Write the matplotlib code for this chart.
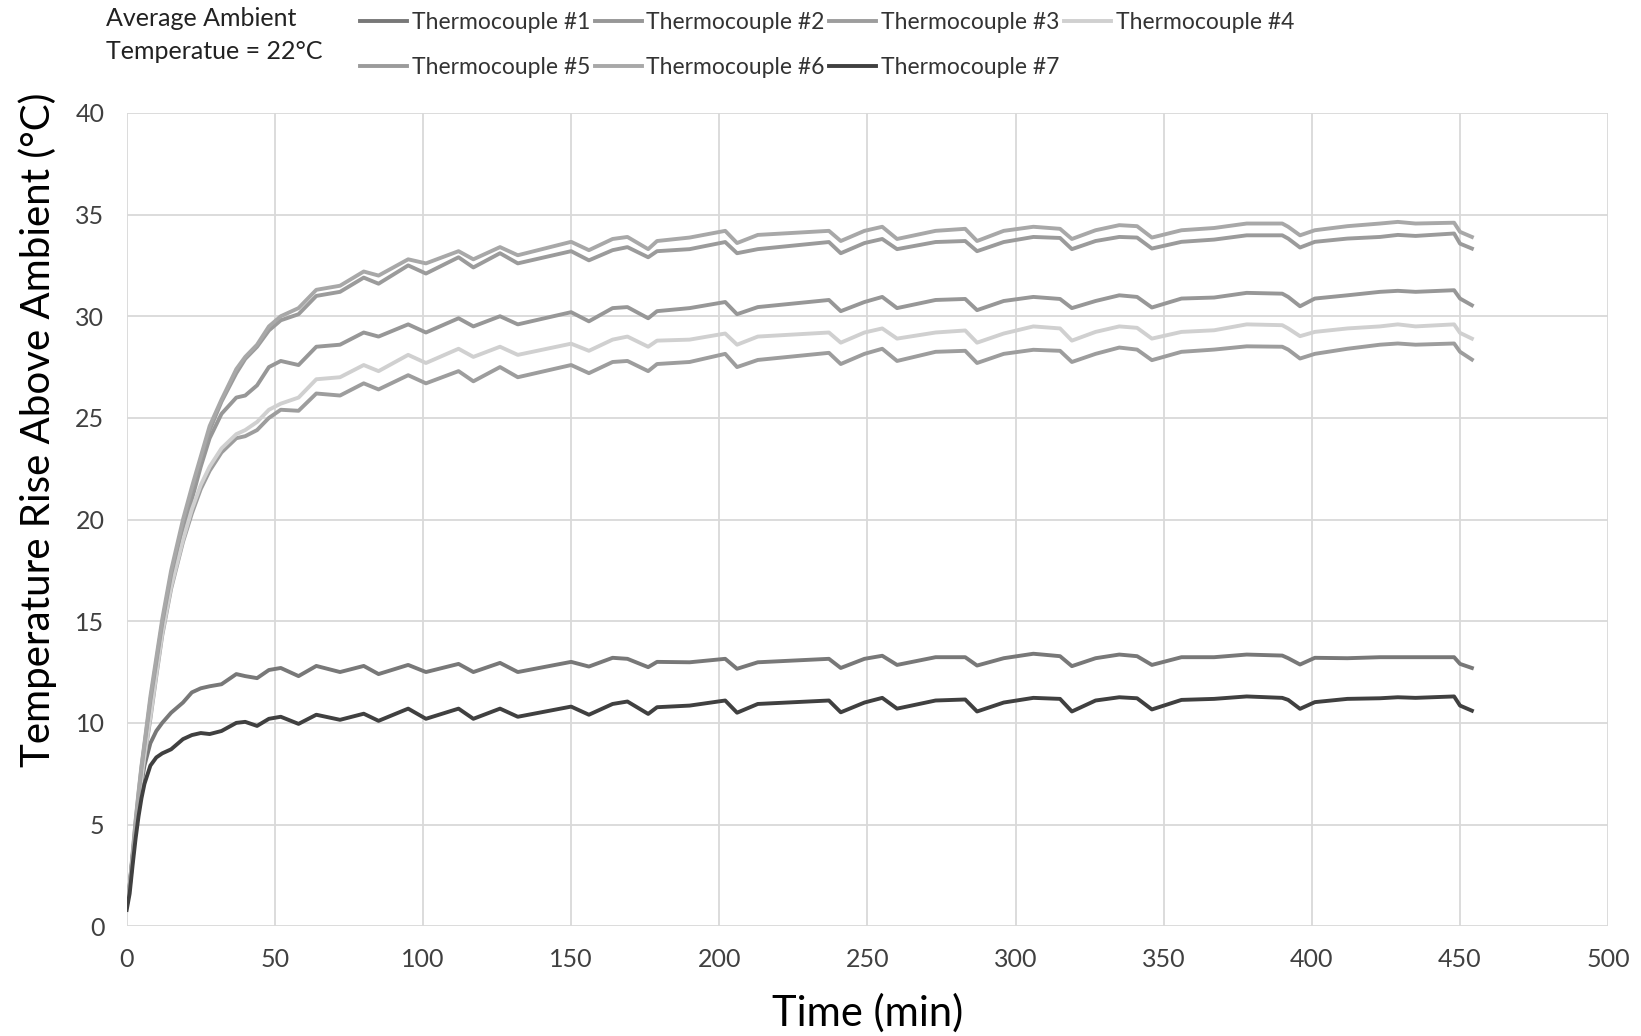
# Temperature rise of seven thermocouples above ambient
import matplotlib
matplotlib.use('Agg')
import matplotlib.pyplot as plt

plt.rcParams['font.family'] = ['Lato', 'DejaVu Sans']

t = [0, 1, 2, 3, 4, 5, 6, 8, 10, 12, 15, 19, 22, 25, 28, 32, 37, 40, 44, 48,
     52, 58, 64, 72, 80, 85, 95, 101, 112, 117, 126, 132, 150, 156, 164, 169, 176, 179, 190, 202,
     206, 213, 237, 241, 249, 255, 260, 273, 283, 287, 296, 306, 315, 319, 327, 335, 341, 346, 356, 367,
     378, 390, 392, 396, 401, 412, 423, 429, 435, 448, 450, 454]

tc1 = [1.0, 2.0, 3.4, 4.8, 6.0, 7.0, 7.9, 9.0, 9.6, 10.0, 10.5, 11.0, 11.5, 11.7, 11.8, 11.9, 12.4, 12.3, 12.2, 12.6,
       12.7, 12.3, 12.8, 12.5, 12.8, 12.4, 12.85, 12.5, 12.9, 12.5, 12.95, 12.5, 13.0, 12.77, 13.2, 13.15, 12.74, 13.0, 12.98, 13.15,
       12.66, 12.98, 13.15, 12.7, 13.15, 13.3, 12.85, 13.23, 13.23, 12.82, 13.18, 13.4, 13.28, 12.79, 13.18, 13.36, 13.28, 12.85, 13.23, 13.23,
       13.36, 13.31, 13.18, 12.87, 13.2, 13.18, 13.23, 13.23, 13.23, 13.23, 12.9, 12.7]

tc2 = [1.0, 1.9, 3.4, 4.9, 6.3, 7.5, 8.6, 10.6, 12.6, 14.5, 16.8, 19.3, 21.0, 22.6, 24.0, 25.2, 26.0, 26.1, 26.6, 27.5,
       27.8, 27.6, 28.5, 28.6, 29.2, 29.0, 29.6, 29.2, 29.9, 29.5, 30.0, 29.6, 30.2, 29.75, 30.4, 30.45, 29.9, 30.25, 30.4, 30.7,
       30.1, 30.45, 30.8, 30.25, 30.7, 30.95, 30.4, 30.8, 30.85, 30.3, 30.75, 30.95, 30.85, 30.4, 30.75, 31.03, 30.95, 30.43, 30.87, 30.92,
       31.15, 31.11, 30.95, 30.49, 30.87, 31.03, 31.2, 31.25, 31.2, 31.28, 30.87, 30.54]

tc3 = [1.0, 1.9, 3.3, 4.7, 6.0, 7.2, 8.3, 10.2, 12.3, 14.3, 16.6, 18.9, 20.3, 21.5, 22.4, 23.3, 24.0, 24.1, 24.4, 25.0,
       25.4, 25.35, 26.2, 26.1, 26.7, 26.4, 27.1, 26.7, 27.3, 26.8, 27.5, 27.0, 27.6, 27.2, 27.75, 27.8, 27.3, 27.65, 27.75, 28.15,
       27.5, 27.85, 28.2, 27.65, 28.15, 28.4, 27.8, 28.25, 28.3, 27.7, 28.15, 28.35, 28.3, 27.75, 28.15, 28.46, 28.36, 27.84, 28.25, 28.36,
       28.52, 28.5, 28.36, 27.92, 28.15, 28.4, 28.6, 28.66, 28.6, 28.66, 28.25, 27.87]

tc4 = [1.0, 1.9, 3.3, 4.8, 6.1, 7.3, 8.4, 10.3, 12.4, 14.4, 16.7, 19.0, 20.5, 21.7, 22.6, 23.5, 24.2, 24.4, 24.8, 25.4,
       25.7, 26.0, 26.9, 27.0, 27.6, 27.3, 28.1, 27.7, 28.4, 28.0, 28.5, 28.1, 28.65, 28.3, 28.85, 29.0, 28.5, 28.8, 28.85, 29.15,
       28.6, 29.0, 29.2, 28.7, 29.2, 29.4, 28.9, 29.2, 29.3, 28.7, 29.15, 29.5, 29.4, 28.8, 29.23, 29.5, 29.43, 28.9, 29.23, 29.31,
       29.6, 29.56, 29.4, 29.02, 29.23, 29.4, 29.5, 29.6, 29.5, 29.6, 29.18, 28.9]

tc5 = [1.0, 2.0, 3.5, 5.1, 6.5, 7.8, 8.9, 11.1, 13.0, 14.9, 17.3, 19.8, 21.4, 22.9, 24.4, 25.8, 27.2, 27.9, 28.5, 29.3,
       29.8, 30.1, 31.0, 31.2, 31.9, 31.6, 32.5, 32.1, 32.9, 32.4, 33.1, 32.6, 33.2, 32.75, 33.25, 33.4, 32.9, 33.2, 33.3, 33.65,
       33.1, 33.3, 33.65, 33.1, 33.6, 33.8, 33.3, 33.65, 33.7, 33.2, 33.65, 33.9, 33.85, 33.3, 33.7, 33.9, 33.87, 33.33, 33.66, 33.77,
       33.98, 33.98, 33.82, 33.38, 33.66, 33.82, 33.9, 34.0, 33.95, 34.07, 33.57, 33.33]

tc6 = [1.0, 2.0, 3.6, 5.2, 6.6, 7.9, 9.0, 11.3, 13.2, 15.1, 17.5, 20.0, 21.6, 23.1, 24.6, 25.9, 27.4, 28.0, 28.6, 29.5,
       30.0, 30.4, 31.3, 31.5, 32.2, 32.0, 32.8, 32.6, 33.2, 32.8, 33.4, 33.0, 33.66, 33.25, 33.8, 33.9, 33.3, 33.7, 33.87, 34.2,
       33.6, 34.0, 34.2, 33.7, 34.2, 34.4, 33.8, 34.2, 34.3, 33.7, 34.2, 34.4, 34.3, 33.8, 34.23, 34.48, 34.43, 33.87, 34.23, 34.34,
       34.56, 34.56, 34.4, 33.98, 34.23, 34.43, 34.56, 34.64, 34.56, 34.6, 34.15, 33.9]

tc7 = [0.8, 1.6, 3.0, 4.3, 5.4, 6.3, 7.0, 7.9, 8.3, 8.5, 8.7, 9.2, 9.4, 9.5, 9.45, 9.6, 10.0, 10.05, 9.85, 10.2,
       10.3, 9.95, 10.4, 10.15, 10.45, 10.1, 10.7, 10.2, 10.7, 10.2, 10.7, 10.3, 10.8, 10.4, 10.93, 11.05, 10.44, 10.77, 10.85, 11.1,
       10.5, 10.93, 11.1, 10.52, 11.0, 11.23, 10.7, 11.1, 11.15, 10.56, 11.0, 11.23, 11.18, 10.56, 11.1, 11.26, 11.21, 10.66, 11.13, 11.18,
       11.3, 11.23, 11.13, 10.69, 11.02, 11.18, 11.21, 11.26, 11.23, 11.3, 10.85, 10.6]

names = ['Thermocouple #1', 'Thermocouple #2', 'Thermocouple #3', 'Thermocouple #4',
         'Thermocouple #5', 'Thermocouple #6', 'Thermocouple #7']
series = [tc1, tc2, tc3, tc4, tc5, tc6, tc7]
colors = ['#787878', '#979797', '#9d9d9d', '#d0d0d0', '#9b9b9b', '#a8a8a8', '#404040']

fig = plt.figure(figsize=(16.41, 10.36), dpi=100)
ax = fig.add_axes([0.0772, 0.106, 0.9028, 0.785])

lines = []
for y, c, n in zip(series, colors, names):
    ln, = ax.plot(t, y, color=c, lw=2.8, label=n, solid_joinstyle='round')
    lines.append(ln)

ax.set_xlim(0, 500)
ax.set_ylim(0, 40)
ax.set_xticks(range(0, 501, 50))
ax.set_yticks(range(0, 41, 5))
ax.grid(True, color='#d9d9d9', lw=1.3)
ax.set_axisbelow(True)
for s in ax.spines.values():
    s.set_visible(False)
ax.tick_params(length=0, labelsize=18, colors='#404040', pad=16)
ax.set_xlabel('Time (min)', fontsize=30)
ax.xaxis.set_label_coords(0.5, -0.083)
ax.set_ylabel('Temperature Rise Above Ambient (°C)', fontsize=29)
ax.yaxis.set_label_coords(-0.047, 0.61)

fig.text(0.0645, 0.993, 'Average Ambient\nTemperatue = 22°C', fontsize=18,
         va='top', ha='left', linespacing=1.5, color='#222222')

order = [0, 4, 1, 5, 2, 6, 3]
fig.legend([lines[i] for i in order], [names[i] for i in order],
           loc='upper left', bbox_to_anchor=(0.207, 1.008), ncol=4, frameon=False,
           fontsize=16.5, handlelength=2.05, handletextpad=0.2, columnspacing=0.2,
           labelspacing=1.05, labelcolor='#333333')

fig.savefig('out.png', dpi=100, facecolor='white')
